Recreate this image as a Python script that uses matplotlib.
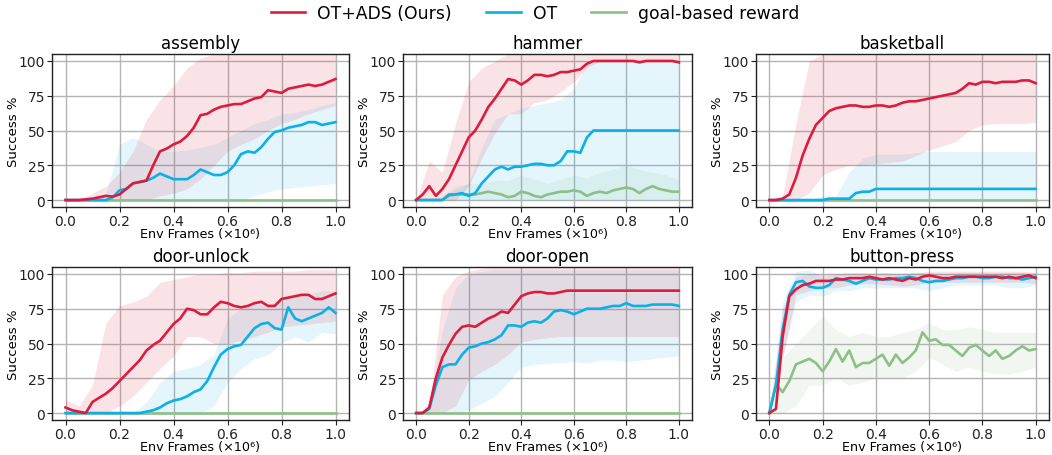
import numpy as np
import matplotlib
matplotlib.use("Agg")
import matplotlib.pyplot as plt

# ---------------- data ----------------
tasks = ["assembly", "hammer", "basketball", "door-unlock", "door-open", "button-press"]
series_names = ["OT+ADS (Ours)", "OT", "goal-based reward"]

frames = np.linspace(0.0, 1.0, 41)        # mean curves, x in 1e6 env frames
band_frames = np.linspace(0.0, 1.0, 21)   # shaded band samples

zero_line = [0, 0, 0, 0, 0, 0, 0, 0, 0, 0, 0, 0, 0, 0, 0, 0, 0, 0, 0, 0, 0, 0, 0, 0, 0, 0, 0, 0, 0, 0,
             0, 0, 0, 0, 0, 0, 0, 0, 0, 0, 0]

# assembly
asm_ads = [0, 0, 0, 0.5, 1, 2, 3, 2.5, 4, 8, 12, 13, 14, 25, 35, 37, 40, 42, 46, 52,
           61, 62, 65, 67, 68, 69, 69, 71, 73, 74, 79, 78, 77, 80, 81, 82, 83, 82, 83, 85, 87]
asm_ot = [0, 0, 0, 0, 0, 0, 0, 2, 7, 8, 12, 13, 14, 16, 19, 17, 15, 15, 15, 18,
          22, 20, 18, 18, 20, 25, 33, 35, 34, 38, 44, 49, 50, 52, 53, 54, 56, 56, 54, 55, 56]
asm_ads_lo = [0, 0, 0, 0, 0, 0, 0, 3, 5, 8, 15, 25, 35, 40, 44, 50, 55, 58, 62, 65, 68]
asm_ads_hi = [0, 0, 5, 10, 20, 35, 58, 72, 82, 95, 102, 105, 105, 105, 105, 105, 105, 105, 105, 105, 105]
asm_ot_lo = [0, 0, 0, 0, 0, 0, 0, 0, 0, 0, 0, 0, 0, 0, 3, 6, 8, 9, 10, 11, 12]
asm_ot_hi = [0, 0, 0, 5, 40, 45, 40, 35, 35, 36, 38, 40, 45, 50, 55, 58, 62, 63, 65, 68, 70]

# hammer
ham_ads = [0, 4, 10, 3, 8, 15, 25, 35, 45, 50, 58, 67, 73, 80, 87, 86, 83, 86, 90, 90,
           89, 90, 92, 92, 93, 94, 98, 100, 100, 100, 100, 100, 100, 100, 99, 100, 100, 100, 100, 100, 99]
ham_ot = [0, 0, 0, 0, 0, 4, 4, 5, 3, 5, 12, 17, 22, 24, 22, 24, 24, 25, 26, 26,
          25, 25, 28, 35, 35, 34, 45, 50, 50, 50, 50, 50, 50, 50, 50, 50, 50, 50, 50, 50, 50]
ham_goal = [0, 0, 0, 0, 0, 3, 4, 4, 4, 4, 5, 6, 5, 4, 2, 3, 6, 5, 3, 2,
            4, 5, 6, 6, 7, 6, 3, 5, 6, 5, 7, 8, 9, 8, 5, 8, 10, 8, 7, 6, 6]
ham_ads_lo = [0, 0, 0, 0, 10, 30, 48, 62, 62, 70, 72, 78, 85, 95, 100, 100, 100, 100, 100, 100, 100]
ham_ads_hi = [0, 28, 20, 55, 85, 95, 100, 105, 105, 105, 105, 105, 105, 105, 105, 105, 105, 105, 105, 105, 105]
ham_ot_lo = [0, 0, 0, 0, 0, 0, 0, 0, 0, 0, 0, 0, 0, 0, 0, 0, 0, 0, 0, 0, 0]
ham_ot_hi = [0, 0, 2, 8, 12, 38, 58, 62, 66, 68, 70, 72, 80, 98, 100, 100, 100, 100, 100, 100, 100]
ham_goal_lo = [0, 0, 0, 0, 0, 0, 0, 0, 0, 0, 0, 0, 0, 0, 0, 0, 0, 0, 0, 0, 0]
ham_goal_hi = [0, 0, 3, 10, 12, 12, 14, 14, 18, 15, 12, 15, 18, 16, 20, 22, 25, 22, 20, 18, 15]

# basketball
bb_ads = [0, 0, 1, 4, 16, 32, 44, 54, 59, 64, 66, 67, 68, 68, 67, 67, 68, 68, 67, 68,
          70, 71, 71, 72, 73, 74, 75, 76, 77, 80, 84, 83, 85, 85, 84, 85, 85, 85, 86, 86, 84]
bb_ot = [0, 0, 0, 0, 0, 0, 0, 0, 0, 1, 1, 1, 1, 5, 6, 6, 8, 8, 8, 8,
         8, 8, 8, 8, 8, 8, 8, 8, 8, 8, 8, 8, 8, 8, 8, 8, 8, 8, 8, 8, 8]
bb_ads_lo = [0, 0, 0, 5, 18, 22, 25, 25, 26, 27, 28, 32, 36, 39, 42, 50, 54, 55, 55, 55, 56]
bb_ads_hi = [0, 3, 55, 100, 105, 105, 105, 105, 105, 105, 105, 105, 105, 105, 105, 105, 105, 105, 105, 105, 105]
bb_ot_lo = [0, 0, 0, 0, 0, 0, 0, 0, 0, 0, 0, 0, 0, 0, 0, 0, 0, 0, 0, 0, 0]
bb_ot_hi = [0, 0, 0, 0, 3, 3, 20, 30, 33, 33, 33, 34, 35, 35, 35, 35, 35, 35, 35, 35, 35]

# door-unlock
du_ads = [4, 2, 1, 0, 8, 11, 14, 18, 23, 28, 33, 38, 45, 49, 52, 58, 64, 68, 75, 74,
          71, 71, 76, 80, 79, 77, 76, 77, 79, 80, 77, 77, 82, 83, 84, 85, 85, 82, 82, 84, 86]
du_ot = [0, 0, 0, 0, 0, 0, 0, 0, 0, 0, 0, 0, 1, 2, 4, 7, 9, 10, 12, 15,
         17, 23, 33, 42, 46, 48, 49, 55, 61, 64, 65, 61, 60, 76, 68, 66, 68, 70, 72, 76, 72]
du_ads_lo = [0, 0, 0, 0, 5, 12, 22, 32, 41, 55, 55, 50, 50, 52, 55, 58, 62, 63, 64, 65, 66]
du_ads_hi = [10, 5, 20, 65, 77, 80, 84, 94, 96, 98, 100, 100, 101, 101, 102, 102, 102, 102, 103, 103, 103]
du_ot_lo = [0, 0, 0, 0, 0, 0, 0, 0, 0, 0, 0, 5, 22, 32, 39, 42, 50, 55, 51, 58, 57]
du_ot_hi = [0, 0, 0, 0, 0, 0, 8, 22, 30, 32, 35, 42, 68, 75, 78, 78, 82, 84, 85, 88, 88]

# door-open
do_ads = [0, 0, 4, 25, 40, 49, 57, 62, 63, 62, 65, 68, 70, 73, 72, 78, 84, 86, 87, 87,
          86, 86, 87, 88, 88, 88, 88, 88, 88, 88, 88, 88, 88, 88, 88, 88, 88, 88, 88, 88, 88]
do_ot = [0, 0, 3, 20, 33, 35, 35, 42, 47, 48, 50, 51, 53, 56, 63, 63, 62, 65, 66, 65,
         68, 73, 74, 73, 71, 73, 75, 75, 75, 76, 77, 77, 79, 77, 77, 77, 78, 78, 78, 78, 77]
do_ads_lo = [0, 0, 0, 5, 24, 30, 35, 42, 51, 53, 54, 55, 55, 55, 55, 55, 55, 55, 55, 55, 55]
do_ads_hi = [0, 5, 85, 98, 102, 104, 105, 105, 105, 105, 105, 105, 105, 105, 105, 105, 105, 105, 105, 105, 105]
do_ot_lo = [0, 0, 0, 0, 2, 7, 12, 22, 33, 35, 36, 36, 37, 36, 38, 38, 37, 38, 39, 40, 41]
do_ot_hi = [0, 3, 60, 90, 100, 102, 103, 103, 103, 103, 103, 103, 103, 103, 103, 103, 103, 103, 103, 103, 103]

# button-press
bp_ads = [0, 3, 55, 84, 89, 92, 93, 95, 95, 95, 96, 96, 97, 97, 97, 98, 97, 96, 97, 96,
          95, 97, 96, 98, 99, 98, 97, 97, 98, 98, 98, 98, 98, 98, 98, 97, 98, 97, 98, 99, 97]
bp_ot = [0, 20, 60, 85, 94, 95, 91, 90, 90, 92, 97, 96, 95, 93, 95, 97, 96, 96, 96, 97,
         97, 98, 97, 95, 94, 95, 95, 96, 97, 97, 98, 98, 97, 97, 98, 98, 97, 97, 96, 97, 98]
bp_goal = [0, 21, 15, 23, 35, 37, 39, 36, 30, 37, 46, 37, 45, 33, 36, 36, 39, 42, 34, 42,
           36, 40, 45, 58, 52, 53, 49, 49, 45, 41, 47, 49, 45, 41, 45, 39, 41, 45, 48, 45, 46]
bp_ads_lo = [0, 40, 85, 88, 90, 90, 92, 93, 93, 92, 91, 92, 94, 94, 94, 94, 94, 94, 94, 94, 93]
bp_ads_hi = [0, 75, 98, 100, 100, 100, 101, 101, 101, 101, 100, 101, 102, 102, 102, 102, 102, 102, 102, 102, 101]
bp_ot_lo = [0, 40, 80, 85, 84, 88, 88, 90, 90, 90, 90, 90, 88, 90, 92, 92, 92, 92, 90, 90, 92]
bp_ot_hi = [0, 80, 102, 103, 98, 100, 100, 100, 100, 100, 101, 101, 101, 100, 101, 101, 101, 101, 101, 101, 101]
bp_goal_lo = [0, 0, 5, 20, 20, 25, 20, 22, 25, 25, 25, 30, 40, 35, 30, 33, 30, 28, 28, 30, 33]
bp_goal_hi = [0, 40, 50, 60, 70, 60, 55, 58, 55, 55, 58, 60, 65, 60, 60, 62, 60, 58, 58, 58, 58]

x_ticks = [0.0, 0.2, 0.4, 0.6, 0.8, 1.0]
y_ticks = [0, 25, 50, 75, 100]

# ---------------- style ----------------
colors = ["#DC1C3C", "#0AB0E8", "#8DBF88"]
band_alpha = [0.12, 0.11, 0.12]

panels = [
    (asm_ads, asm_ot, zero_line, (asm_ads_lo, asm_ads_hi), (asm_ot_lo, asm_ot_hi), None),
    (ham_ads, ham_ot, ham_goal, (ham_ads_lo, ham_ads_hi), (ham_ot_lo, ham_ot_hi), (ham_goal_lo, ham_goal_hi)),
    (bb_ads, bb_ot, zero_line, (bb_ads_lo, bb_ads_hi), (bb_ot_lo, bb_ot_hi), None),
    (du_ads, du_ot, zero_line, (du_ads_lo, du_ads_hi), (du_ot_lo, du_ot_hi), None),
    (do_ads, do_ot, zero_line, (do_ads_lo, do_ads_hi), (do_ot_lo, do_ot_hi), None),
    (bp_ads, bp_ot, bp_goal, (bp_ads_lo, bp_ads_hi), (bp_ot_lo, bp_ot_hi), (bp_goal_lo, bp_goal_hi)),
]

W, H = 1052, 456
fig = plt.figure(figsize=(W / 100, H / 100), dpi=100)

cols_px = [(52, 349), (403, 692), (756, 1049)]
rows_px = [(55, 208), (268, 421)]

handles = []
for i, task in enumerate(tasks):
    r, c = divmod(i, 3)
    l, rr = cols_px[c]
    t, b = rows_px[r]
    ax = fig.add_axes([l / W, 1 - b / H, (rr - l) / W, (b - t) / H])
    ads, ot, goal, ads_band, ot_band, goal_band = panels[i]
    bands = [ads_band, ot_band, goal_band]
    for k in [2, 1, 0]:
        if bands[k] is not None:
            ax.fill_between(band_frames, bands[k][0], bands[k][1], color=colors[k],
                            alpha=band_alpha[k], linewidth=0, zorder=1)
    lines = []
    for k, ys in [(2, goal), (1, ot), (0, ads)]:
        ln, = ax.plot(frames, ys, color=colors[k], lw=1.9, zorder=3 + (2 - k))
        lines.append((k, ln))
    if i == 0:
        handles = [ln for k, ln in sorted(lines)]
    ax.set_xlim(-0.05, 1.05)
    ax.set_ylim(-5, 105)
    ax.set_xticks(x_ticks)
    ax.set_yticks(y_ticks)
    ax.tick_params(labelsize=10, length=3.5, width=0.8, colors="#222222", pad=1.5)
    ax.grid(True, color="#b4b4b4", lw=1.0, zorder=0)
    ax.set_axisbelow(True)
    for s in ax.spines.values():
        s.set_color("#222222")
        s.set_linewidth(1.0)
    ax.set_title(task, fontsize=12, pad=4)
    ax.set_xlabel("Env Frames (\u00d710\u2076)", fontsize=9.2, labelpad=-0.5)
    ax.set_ylabel("Success %", fontsize=9.5, labelpad=-1)

fig.legend(handles, series_names, loc="upper center", bbox_to_anchor=(0.5086, 1.022),
           ncol=3, frameon=False, fontsize=12.4, handlelength=2.0, columnspacing=2.0,
           handletextpad=0.7)

fig.savefig("out.png", dpi=100)
